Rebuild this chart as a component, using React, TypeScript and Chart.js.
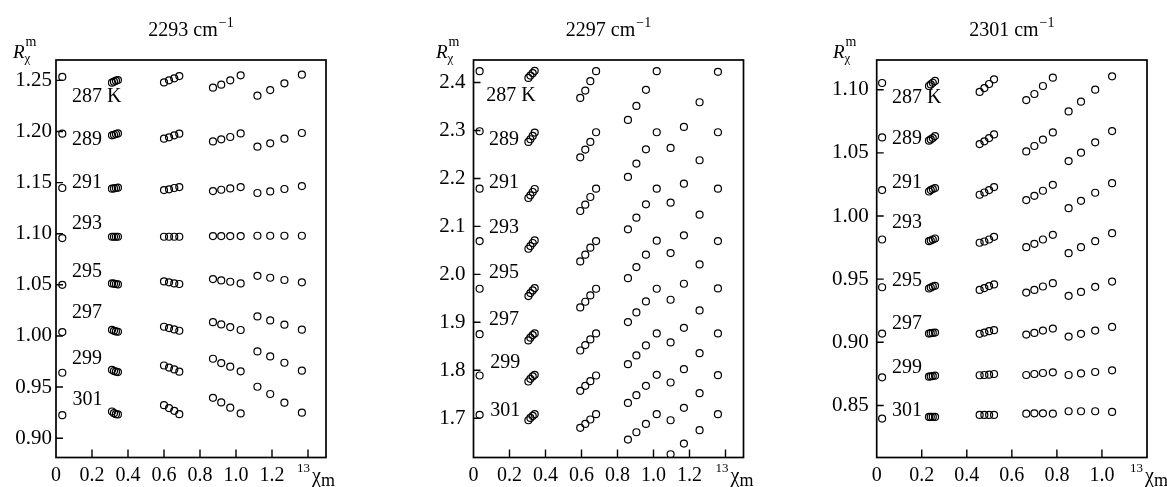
import React, { useEffect, useRef } from 'react';
import { Chart, registerables } from 'chart.js';

Chart.register(...registerables);

const SERIF = '"Liberation Serif", "Times New Roman", serif';

const temperatureLabels = ['287 K', '289', '291', '293', '295', '297', '299', '301'];

// ---------- 2293 cm-1 ----------
const x2293 = [0.035, 0.311, 0.322, 0.333, 0.344, 0.600, 0.628, 0.657, 0.685, 0.872, 0.918, 0.968, 1.026, 1.119, 1.190, 1.269, 1.366];
const r2293_287 = [1.2533, 1.2477, 1.2487, 1.2497, 1.2503, 1.2480, 1.2500, 1.2520, 1.2542, 1.2428, 1.2458, 1.2500, 1.2549, 1.2350, 1.2405, 1.2471, 1.2555];
const r2293_289 = [1.1978, 1.1962, 1.1968, 1.1975, 1.1981, 1.1929, 1.1943, 1.1962, 1.1978, 1.1903, 1.1923, 1.1946, 1.1981, 1.1851, 1.1884, 1.1929, 1.1985];
const r2293_291 = [1.1447, 1.1440, 1.1443, 1.1447, 1.1450, 1.1427, 1.1434, 1.1447, 1.1456, 1.1417, 1.1430, 1.1443, 1.1456, 1.1398, 1.1414, 1.1437, 1.1466];
const r2293_293 = [1.0957, 1.0970, 1.0970, 1.0970, 1.0970, 1.0970, 1.0970, 1.0970, 1.0970, 1.0977, 1.0977, 1.0977, 1.0977, 1.0980, 1.0980, 1.0980, 1.0980];
const r2293_295 = [1.0500, 1.0514, 1.0511, 1.0508, 1.0504, 1.0533, 1.0524, 1.0514, 1.0508, 1.0556, 1.0543, 1.0530, 1.0514, 1.0588, 1.0569, 1.0547, 1.0524];
const r2293_297 = [1.0038, 1.0060, 1.0050, 1.0044, 1.0041, 1.0090, 1.0077, 1.0064, 1.0051, 1.0135, 1.0113, 1.0087, 1.0058, 1.0191, 1.0152, 1.0110, 1.0061];
const r2293_299 = [0.9640, 0.9669, 0.9657, 0.9650, 0.9647, 0.9711, 0.9691, 0.9672, 0.9650, 0.9777, 0.9735, 0.9699, 0.9654, 0.9849, 0.9800, 0.9738, 0.9660];
const r2293_301 = [0.9225, 0.9261, 0.9245, 0.9235, 0.9232, 0.9323, 0.9294, 0.9268, 0.9235, 0.9395, 0.9350, 0.9298, 0.9242, 0.9503, 0.9432, 0.9347, 0.9249];
const yTicks2293 = [0.90, 0.95, 1.00, 1.05, 1.10, 1.15, 1.20, 1.25];
const xTicks2293 = [0, 0.2, 0.4, 0.6, 0.8, 1.0, 1.2, 1.4];
const xTickLabels2293 = ['0', '0.2', '0.4', '0.6', '0.8', '1.0', '1.2', ''];
const labelX2293 = [0.089, 0.089, 0.089, 0.089, 0.089, 0.089, 0.089, 0.092];
const labelY2293 = [1.2343, 1.1920, 1.1499, 1.1097, 1.0631, 1.0223, 0.9777, 0.9375];

// ---------- 2297 cm-1 ----------
const x2297 = [0.034, 0.305, 0.316, 0.329, 0.340, 0.593, 0.621, 0.649, 0.681, 0.858, 0.905, 0.958, 1.018, 1.095, 1.169, 1.256, 1.358];
const r2297_287 = [2.4237, 2.4097, 2.4146, 2.4195, 2.4244, 2.3680, 2.3833, 2.4028, 2.4237, 2.3221, 2.3513, 2.3847, 2.4237, 2.2636, 2.3074, 2.3589, 2.4223];
const r2297_289 = [2.2984, 2.2761, 2.2817, 2.2887, 2.2956, 2.2441, 2.2601, 2.2761, 2.2963, 2.2031, 2.2309, 2.2608, 2.2963, 2.1495, 2.1891, 2.2379, 2.2963];
const r2297_291 = [2.1787, 2.1592, 2.1648, 2.1717, 2.1780, 2.1321, 2.1453, 2.1613, 2.1787, 2.0938, 2.1182, 2.1460, 2.1787, 2.0444, 2.0813, 2.1244, 2.1787];
const r2297_293 = [2.0694, 2.0534, 2.0590, 2.0653, 2.0708, 2.0270, 2.0409, 2.0555, 2.0694, 1.9920, 2.0152, 2.0409, 2.0701, 1.9470, 1.9804, 2.0207, 2.0694];
const r2297_295 = [1.9699, 1.9546, 1.9609, 1.9665, 1.9713, 1.9310, 1.9428, 1.9560, 1.9699, 1.9004, 1.9205, 1.9435, 1.9699, 1.8579, 1.8885, 1.9247, 1.9706];
const r2297_297 = [1.8753, 1.8622, 1.8678, 1.8733, 1.8767, 1.8412, 1.8524, 1.8642, 1.8767, 1.8127, 1.8308, 1.8517, 1.8767, 1.7744, 1.8022, 1.8356, 1.8767];
const r2297_299 = [1.7890, 1.7765, 1.7821, 1.7870, 1.7904, 1.7570, 1.7674, 1.7772, 1.7890, 1.7319, 1.7479, 1.7674, 1.7904, 1.6957, 1.7215, 1.7521, 1.7897];
const r2297_301 = [1.7069, 1.6957, 1.7006, 1.7048, 1.7083, 1.6798, 1.6881, 1.6972, 1.7083, 1.6554, 1.6707, 1.6881, 1.7083, 1.6248, 1.6470, 1.6749, 1.7083];
const yTicks2297 = [1.7, 1.8, 1.9, 2.0, 2.1, 2.2, 2.3, 2.4];
const xTicks2297 = [0, 0.2, 0.4, 0.6, 0.8, 1.0, 1.2, 1.4];
const xTickLabels2297 = ['0', '0.2', '0.4', '0.6', '0.8', '1.0', '1.2', ''];
const labelX2297 = [0.071, 0.086, 0.086, 0.086, 0.086, 0.086, 0.093, 0.093];
const labelY2297 = [2.3715, 2.2817, 2.1912, 2.0973, 2.0026, 1.9052, 1.8148, 1.7153];

// ---------- 2301 cm-1 ----------
const x2301 = [0.024, 0.232, 0.240, 0.249, 0.259, 0.457, 0.478, 0.499, 0.521, 0.664, 0.700, 0.738, 0.782, 0.852, 0.907, 0.970, 1.045];
const r2301_287 = [1.1053, 1.1029, 1.1042, 1.1055, 1.1069, 1.0982, 1.1013, 1.1045, 1.1082, 1.0918, 1.0966, 1.1029, 1.1095, 1.0828, 1.0905, 1.1000, 1.1106];
const r2301_289 = [1.0622, 1.0596, 1.0606, 1.0617, 1.0633, 1.0569, 1.0591, 1.0617, 1.0646, 1.0511, 1.0554, 1.0604, 1.0662, 1.0435, 1.0501, 1.0583, 1.0672];
const r2301_291 = [1.0205, 1.0194, 1.0205, 1.0213, 1.0221, 1.0168, 1.0186, 1.0205, 1.0229, 1.0126, 1.0160, 1.0200, 1.0247, 1.0062, 1.0120, 1.0184, 1.0260];
const r2301_293 = [0.9814, 0.9801, 0.9806, 0.9814, 0.9822, 0.9788, 0.9798, 0.9814, 0.9835, 0.9753, 0.9780, 0.9814, 0.9851, 0.9706, 0.9753, 0.9801, 0.9864];
const r2301_295 = [0.9436, 0.9426, 0.9434, 0.9442, 0.9447, 0.9415, 0.9429, 0.9445, 0.9458, 0.9394, 0.9415, 0.9442, 0.9468, 0.9368, 0.9399, 0.9439, 0.9481];
const r2301_297 = [0.9069, 0.9069, 0.9072, 0.9074, 0.9077, 0.9067, 0.9077, 0.9088, 0.9096, 0.9061, 0.9074, 0.9093, 0.9109, 0.9045, 0.9067, 0.9093, 0.9122];
const r2301_299 = [0.8723, 0.8728, 0.8731, 0.8733, 0.8736, 0.8739, 0.8741, 0.8744, 0.8749, 0.8741, 0.8749, 0.8757, 0.8762, 0.8741, 0.8754, 0.8765, 0.8778];
const r2301_301 = [0.8396, 0.8409, 0.8409, 0.8409, 0.8409, 0.8425, 0.8425, 0.8425, 0.8425, 0.8435, 0.8438, 0.8438, 0.8435, 0.8454, 0.8454, 0.8454, 0.8449];
const yTicks2301 = [0.85, 0.90, 0.95, 1.00, 1.05, 1.10];
const xTicks2301 = [0, 0.2, 0.4, 0.6, 0.8, 1.0];
const xTickLabels2301 = ['0', '0.2', '0.4', '0.6', '0.8', '1.0'];
const labelX2301 = [0.068, 0.068, 0.068, 0.068, 0.068, 0.068, 0.068, 0.068];
const labelY2301 = [1.0934, 1.0612, 1.0263, 0.9946, 0.9487, 0.9143, 0.8795, 0.8456];

type PanelCfg = {
  title: string;
  x: number[];
  series: number[][];
  yTicks: number[];
  yDecimals: number;
  xTicks: number[];
  xTickLabels: string[];
  labelX: number[];
  labelY: number[];
  yMin: number;
  yMax: number;
  xMax: number;
  canvasLeft: number;
  canvasWidth: number;
  areaLeft: number;
  areaRight: number;
  yLabelPad: number;
  rOffset: number;
  xTitleOffset: number;
};

const panels: PanelCfg[] = [
  {
    title: '2293 cm', x: x2293,
    series: [r2293_287, r2293_289, r2293_291, r2293_293, r2293_295, r2293_297, r2293_299, r2293_301],
    yTicks: yTicks2293, yDecimals: 2, xTicks: xTicks2293, xTickLabels: xTickLabels2293,
    labelX: labelX2293, labelY: labelY2293,
    yMin: 0.8811, yMax: 1.2699, xMax: 1.5,
    canvasLeft: 0, canvasWidth: 390, areaLeft: 56, areaRight: 326, yLabelPad: 4, rOffset: -43, xTitleOffset: -29,
  },
  {
    title: '2297 cm', x: x2297,
    series: [r2297_287, r2297_289, r2297_291, r2297_293, r2297_295, r2297_297, r2297_299, r2297_301],
    yTicks: yTicks2297, yDecimals: 1, xTicks: xTicks2297, xTickLabels: xTickLabels2297,
    labelX: labelX2297, labelY: labelY2297,
    yMin: 1.618, yMax: 2.447, xMax: 1.5,
    canvasLeft: 390, canvasWidth: 390, areaLeft: 83.5, areaRight: 353.5, yLabelPad: 8, rOffset: -37.5, xTitleOffset: -28,
  },
  {
    title: '2301 cm', x: x2301,
    series: [r2301_287, r2301_289, r2301_291, r2301_293, r2301_295, r2301_297, r2301_299, r2301_301],
    yTicks: yTicks2301, yDecimals: 2, xTicks: xTicks2301, xTickLabels: xTickLabels2301,
    labelX: labelX2301, labelY: labelY2301,
    yMin: 0.8088, yMax: 1.1235, xMax: 1.2,
    canvasLeft: 780, canvasWidth: 387, areaLeft: 96.7, areaRight: 367, yLabelPad: 8, rOffset: -43.7, xTitleOffset: -17,
  },
];

const HEIGHT = 487;
const AREA_TOP = 60;
const AREA_BOTTOM = 457.5;

function makeDecor(p: PanelCfg) {
  return {
    id: 'decor',
    afterDraw(chart: any) {
      const { ctx, chartArea: a, scales } = chart;
      const xs = scales.x;
      const ys = scales.y;
      ctx.save();
      ctx.strokeStyle = '#000';
      ctx.lineWidth = 1.7;
      ctx.strokeRect(a.left, a.top, a.right - a.left, a.bottom - a.top);
      ctx.lineWidth = 1.4;
      ctx.beginPath();
      ys.ticks.forEach((t: any) => {
        const y = ys.getPixelForValue(t.value);
        ctx.moveTo(a.left, y);
        ctx.lineTo(a.left + 7, y);
      });
      xs.ticks.forEach((t: any) => {
        const x = xs.getPixelForValue(t.value);
        if (x > a.left + 2 && x < a.right - 2) {
          ctx.moveTo(x, a.bottom);
          ctx.lineTo(x, a.bottom - 8);
        }
      });
      ctx.stroke();

      ctx.fillStyle = '#000';
      ctx.textAlign = 'left';
      // temperature labels
      ctx.font = `20px ${SERIF}`;
      ctx.textBaseline = 'middle';
      temperatureLabels.forEach((txt, i) => {
        ctx.fillText(txt, xs.getPixelForValue(p.labelX[i]), ys.getPixelForValue(p.labelY[i]));
      });

      ctx.textBaseline = 'alphabetic';
      // title
      ctx.font = `20px ${SERIF}`;
      const w1 = ctx.measureText(p.title).width;
      ctx.font = `14px ${SERIF}`;
      const w2 = ctx.measureText('\u22121').width;
      const sx = (a.left + a.right) / 2 - (w1 + w2 + 1) / 2;
      ctx.font = `20px ${SERIF}`;
      ctx.fillText(p.title, sx, 36);
      ctx.font = `14px ${SERIF}`;
      ctx.fillText('\u22121', sx + w1 + 1, 27);

      // y-axis label R_chi^m
      const rx = a.left + p.rOffset;
      ctx.font = `italic 19px ${SERIF}`;
      ctx.fillText('R', rx, 58);
      const rw = ctx.measureText('R').width;
      ctx.font = `14px ${SERIF}`;
      ctx.fillText('m', rx + rw + 1, 46);
      ctx.font = `13px ${SERIF}`;
      ctx.fillText('\u03c7', rx + rw, 62);

      // x-axis label 13chi_m
      const tx = a.right + p.xTitleOffset;
      ctx.font = `13px ${SERIF}`;
      ctx.fillText('13', tx, 472);
      const w13 = ctx.measureText('13').width;
      ctx.font = `20px ${SERIF}`;
      ctx.fillText('\u03c7', tx + w13 + 2, 482);
      const wc = ctx.measureText('\u03c7').width;
      ctx.font = `18px ${SERIF}`;
      ctx.fillText('m', tx + w13 + 2 + wc, 486);
      ctx.restore();
    },
  };
}

function Panel({ p }: { p: PanelCfg }) {
  const ref = useRef<HTMLCanvasElement | null>(null);
  useEffect(() => {
    if (!ref.current) return;
    const datasets = p.series.map((ys, si) => ({
      label: temperatureLabels[si],
      data: p.x.map((xv, i) => ({ x: xv, y: ys[i] })),
      showLine: false,
      pointRadius: 3.5,
      pointHoverRadius: 3.5,
      pointBorderWidth: 1.2,
      pointBorderColor: '#000',
      pointBackgroundColor: 'rgba(255,255,255,0)',
    }));
    const chart = new Chart(ref.current, {
      type: 'scatter',
      data: { datasets },
      options: {
        animation: false,
        responsive: false,
        maintainAspectRatio: false,
        devicePixelRatio: 1,
        events: [],
        layout: { padding: { top: AREA_TOP, right: p.canvasWidth - p.areaRight, left: 0, bottom: 0 } },
        plugins: { legend: { display: false }, tooltip: { enabled: false }, title: { display: false } },
        scales: {
          x: {
            type: 'linear',
            min: 0,
            max: p.xMax,
            grid: { display: false, drawTicks: false },
            border: { display: false },
            afterBuildTicks: (s: any) => { s.ticks = p.xTicks.map((v) => ({ value: v })); },
            afterFit: (s: any) => { s.height = HEIGHT - AREA_BOTTOM; },
            ticks: {
              autoSkip: false,
              maxRotation: 0,
              padding: 6,
              color: '#000',
              font: { family: SERIF, size: 20 },
              callback: (_v: any, i: number) => p.xTickLabels[i],
            },
          },
          y: {
            type: 'linear',
            min: p.yMin,
            max: p.yMax,
            grid: { display: false, drawTicks: false },
            border: { display: false },
            afterBuildTicks: (s: any) => { s.ticks = p.yTicks.map((v) => ({ value: v })); },
            afterFit: (s: any) => { s.width = p.areaLeft; },
            ticks: {
              autoSkip: false,
              padding: p.yLabelPad,
              color: '#000',
              font: { family: SERIF, size: 21 },
              callback: (v: any) => Number(v).toFixed(p.yDecimals),
            },
          },
        },
      },
      plugins: [makeDecor(p)],
    } as any);
    return () => chart.destroy();
  }, [p]);
  return (
    <canvas
      ref={ref}
      width={p.canvasWidth}
      height={HEIGHT}
      style={{ position: 'absolute', left: p.canvasLeft, top: 0, width: p.canvasWidth, height: HEIGHT }}
    />
  );
}

export default function App() {
  return (
    <div style={{ position: 'fixed', left: 0, top: 0, width: 1167, height: HEIGHT, background: '#fff', overflow: 'hidden' }}>
      {panels.map((p) => (
        <Panel key={p.title} p={p} />
      ))}
    </div>
  );
}
